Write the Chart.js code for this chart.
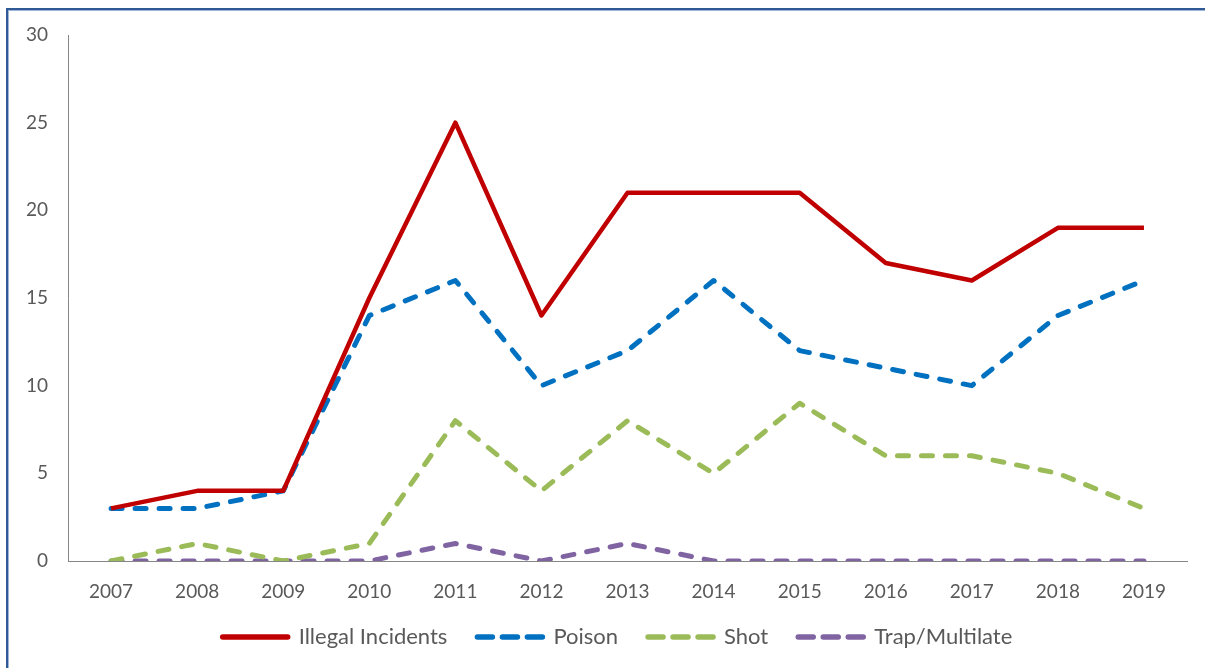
<!DOCTYPE html>
<html><head><meta charset="utf-8">
<script src="https://cdn.jsdelivr.net/npm/chart.js@4"></script>
<style>
html,body{margin:0;padding:0;background:#fff;overflow:hidden}
#wrap{position:absolute;left:0;top:0;width:1205px;height:668px}
#frame{position:absolute;left:6px;top:8px;width:1300px;height:800px;border-left:2px solid #2F5A96;border-top:2px solid #2F5A96;box-shadow:inset 1px 1px 0 #9DB5D6}
canvas{position:absolute;left:0;top:0}
</style></head><body>
<div id="wrap"><div id="frame"></div><canvas id="c" width="1205" height="668"></canvas></div>
<script>
const years = ['2007','2008','2009','2010','2011','2012','2013','2014','2015','2016','2017','2018','2019'];
const illegalIncidents = [3,4,4,15,25,14,21,21,21,17,16,19,19];
const poison = [3,3,4,14,16,10,12,16,12,11,10,14,16];
const shot = [0,1,0,1,8,4,8,5,9,6,6,5,3];
const trapMultilate = [0,0,0,0,1,0,1,0,0,0,0,0,0];

const FONT = 'Lato, "Open Sans", sans-serif';
function ds(label, data, color, dashed){
  return {label, data, borderColor: color, backgroundColor: color, borderWidth: dashed ? 5 : 4.5,
    borderDash: dashed ? [11,13] : [], borderCapStyle: dashed ? 'round' : 'butt',
    borderJoinStyle: 'round', pointRadius: 0, pointHoverRadius: 0, tension: 0, fill: false};
}
const legendShift = { id: 'legendShift', afterLayout(chart){
  const l = chart.legend; if (!l) return;
  l.top -= 14; l.bottom -= 14; l.left += 21; l.right += 21;
}};
new Chart(document.getElementById('c'), {
  type: 'line',
  data: { labels: years, datasets: [
    ds('Illegal Incidents', illegalIncidents, '#C00000', false),
    ds('Poison', poison, '#0070C0', true),
    ds('Shot', shot, '#9BBB59', true),
    ds('Trap/Multilate', trapMultilate, '#8064A2', true)
  ]},
  plugins: [legendShift],
  options: {
    responsive: false, animation: false, devicePixelRatio: 1,
    layout: { padding: { left: 6, right: 18, top: 35, bottom: -4 } },
    plugins: {
      tooltip: { enabled: false },
      legend: { position: 'bottom',
        labels: { usePointStyle: true, pointStyle: 'line', pointStyleWidth: 65, boxHeight: 5,
          color: '#595959', font: { family: FONT, size: 22 }, padding: 30,
          generateLabels(chart){
            return chart.data.datasets.map((d, i) => ({
              text: d.label, fillStyle: d.borderColor, strokeStyle: d.borderColor,
              fontColor: '#595959', lineWidth: 5.5, lineDash: d.borderDash.length ? [15,10] : [],
              lineCap: 'round', pointStyle: 'line', hidden: false, datasetIndex: i
            }));
          } } }
    },
    scales: {
      x: { offset: true, grid: { display: false, drawTicks: false },
        border: { display: true, color: '#868686', width: 1 },
        afterFit(axis){ axis.height = 49; },
        ticks: { color: '#595959', font: { family: FONT, size: 19 }, padding: 19, maxRotation: 0 } },
      y: { min: 0, max: 30, grid: { display: false, drawTicks: false },
        border: { display: true, color: '#868686', width: 1 },
        ticks: { stepSize: 5, color: '#595959', font: { family: FONT, size: 19 }, padding: 20 } }
    }
  }
});
</script></body></html>
